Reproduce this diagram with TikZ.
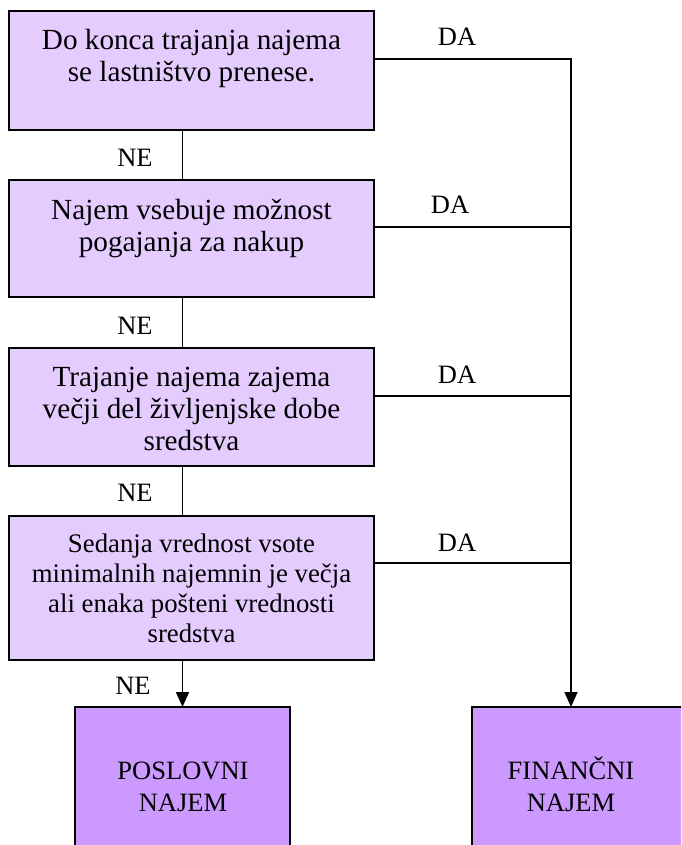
\documentclass[tikz,border=0pt]{standalone}
\usepackage{fontspec}
\setmainfont{Liberation Serif}
\usetikzlibrary{arrows.meta}
\definecolor{boxlight}{HTML}{E5CCFF}
\definecolor{boxdark}{HTML}{CC99FF}
\begin{document}
\begin{tikzpicture}[x=1pt,y=-1pt,
  qbox/.style={draw=black, line width=1.8pt, fill=boxlight, rectangle, inner sep=0pt, outer sep=0pt},
  rbox/.style={draw=black, line width=1.8pt, fill=boxdark, rectangle, inner sep=0pt, outer sep=0pt},
  qtext/.style={align=center, inner sep=0pt, font=\fontsize{29.2}{32}\selectfont},
  qtextsmall/.style={align=center, inner sep=0pt, font=\fontsize{26.8}{30}\selectfont},
  lbl/.style={inner sep=0pt, font=\fontsize{26.5}{30}\selectfont},
  conn/.style={draw=black, line width=1.6pt},
  arrowconn/.style={conn, -{Triangle[width=13pt,length=15pt]}}
]
\clip (0,0) rectangle (681,845);
\fill[white] (0,0) rectangle (681,845);

% boxes
\node[qbox, minimum width=365pt, minimum height=119pt] (b1) at (191.5,70.5) {};
\node[qbox, minimum width=365pt, minimum height=117pt] (b2) at (191.5,238.5) {};
\node[qbox, minimum width=365pt, minimum height=118pt] (b3) at (191.5,407) {};
\node[qbox, minimum width=365pt, minimum height=144pt] (b4) at (191.5,588) {};
\node[rbox, minimum width=215pt, minimum height=160pt] (pos) at (182.5,787) {};
\node[rbox, minimum width=215pt, minimum height=160pt] (fin) at (579.5,787) {};

% texts (base anchor = baseline of last line)
\node[qtext, anchor=base] (t1) at (191.5,82) {Do konca trajanja najema\\se lastništvo prenese.};
\node[qtext, anchor=base] (t2) at (191.5,251) {Najem vsebuje možnost\\pogajanja za nakup};
\node[qtext, anchor=base] (t3) at (191.5,450) {Trajanje najema zajema\\večji del življenjske dobe\\sredstva};
\node[qtextsmall, anchor=base] (t4) at (191.5,642) {Sedanja vrednost vsote\\minimalnih najemnin je večja\\ali enaka pošteni vrednosti\\sredstva};
\node[qtext, anchor=base, font=\fontsize{26.5}{32}\selectfont] (tp) at (183,811) {POSLOVNI\\NAJEM};
\node[qtext, anchor=base, font=\fontsize{26.5}{32}\selectfont] (tf) at (571,811) {FINANČNI\\NAJEM};

% DA coordinates on the right trunk
\coordinate (d1) at (571,59);
\coordinate (d2) at (571,227);
\coordinate (d3) at (571,396);
\coordinate (d4) at (571,563);

% NE connectors
\draw[conn] (b1.south -| pos.north) -- (b2.north -| pos.north);
\draw[conn] (b2.south -| pos.north) -- (b3.north -| pos.north);
\draw[conn] (b3.south -| pos.north) -- (b4.north -| pos.north);
\draw[arrowconn] (b4.south -| pos.north) -- (pos.north);

% DA connectors
\draw[arrowconn, line join=miter] (b1.east |- d1) -- (d1) -- (fin.north -| d1);
\draw[conn] (b2.east |- d2) -- (d2);
\draw[conn] (b3.east |- d3) -- (d3);
\draw[conn] (b4.east |- d4) -- (d4);

% labels
\node[lbl, anchor=base] (da1) at (457,46) {DA};
\node[lbl, anchor=base] (da2) at (450,213) {DA};
\node[lbl, anchor=base] (da3) at (457,383) {DA};
\node[lbl, anchor=base] (da4) at (457,551) {DA};
\node[lbl, anchor=base] (ne1) at (135,167) {NE};
\node[lbl, anchor=base] (ne2) at (135,334) {NE};
\node[lbl, anchor=base] (ne3) at (135,501) {NE};
\node[lbl, anchor=base] (ne4) at (133,694) {NE};
\end{tikzpicture}
\end{document}
